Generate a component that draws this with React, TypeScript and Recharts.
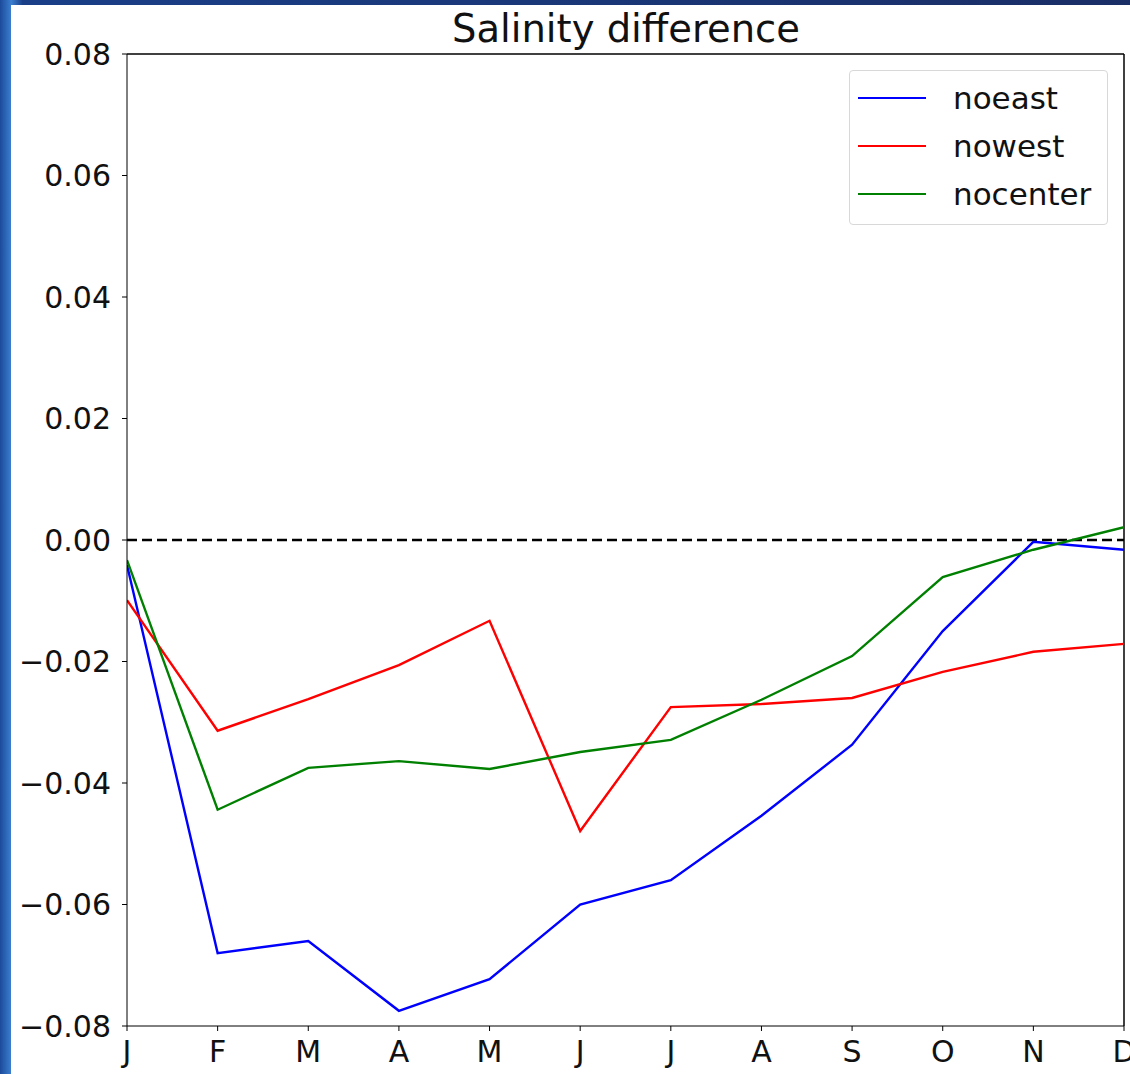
import React from "react";
import { LineChart, Line, XAxis, YAxis, ReferenceLine } from "recharts";

const months = ["J", "F", "M", "A", "M", "J", "J", "A", "S", "O", "N", "D"];
const noeast = [-0.0041, -0.068, -0.066, -0.0775, -0.0723, -0.06, -0.056, -0.0454, -0.0337, -0.015, -0.0003, -0.0016];
const nowest = [-0.0099, -0.0314, -0.0262, -0.0206, -0.0133, -0.0479, -0.0275, -0.027, -0.026, -0.0217, -0.0184, -0.0171];
const nocenter = [-0.0033, -0.0444, -0.0375, -0.0364, -0.0377, -0.0349, -0.0329, -0.0263, -0.0191, -0.0061, -0.0016, 0.0021];
const yTicks = [-0.08, -0.06, -0.04, -0.02, 0, 0.02, 0.04, 0.06, 0.08];

const SERIES = [
  { key: "noeast", color: "#0000ff" },
  { key: "nowest", color: "#ff0000" },
  { key: "nocenter", color: "#008000" },
];

const data = months.map((m, i) => ({
  idx: i,
  month: m,
  noeast: noeast[i],
  nowest: nowest[i],
  nocenter: nocenter[i],
}));

const FONT = "'DejaVu Sans', sans-serif";

const fmtY = (v: number) => {
  const s = Math.abs(v).toFixed(2);
  return v < 0 ? "\u2212" + s : s;
};

// legend drawn outside recharts so it does not eat plot space
const LegendBox = () => (
  <div
    style={{
      position: "absolute",
      left: 849,
      top: 70,
      width: 259,
      height: 155,
      border: "1px solid #d8d8d8",
      borderRadius: 4,
      background: "rgba(255,255,255,0.9)",
      fontFamily: FONT,
      fontSize: 31,
      boxSizing: "border-box",
      paddingTop: 3,
    }}
  >
    {SERIES.map((s) => (
      <div key={s.key} style={{ display: "flex", alignItems: "center", height: 48 }}>
        <div style={{ width: 68, height: 2.5, background: s.color, marginLeft: 8 }} />
        <span style={{ marginLeft: 27, color: "#111" }}>{s.key}</span>
      </div>
    ))}
  </div>
);

const App = () => {
  return (
    <div
      style={{
        position: "fixed",
        left: 0,
        top: 0,
        width: 1130,
        height: 1074,
        overflow: "hidden",
        background: "linear-gradient(90deg, #1d4a9a 0%, #3b7fd0 1%, #1a3f88 2%, #1a2e66 100%)",
      }}
    >
      <div
        style={{
          position: "absolute",
          left: 11,
          top: 5,
          width: 1119,
          height: 1069,
          background: "#ffffff",
        }}
      />
      <div
        style={{
          position: "absolute",
          left: 0,
          top: 6,
          width: 1252,
          textAlign: "center",
          fontFamily: FONT,
          fontSize: 38.5,
          color: "#111",
        }}
      >
        Salinity difference
      </div>
      <div style={{ position: "absolute", left: 0, top: 0 }}>
        <LineChart
          width={1130}
          height={1074}
          data={data}
          margin={{ top: 54, right: 6, left: 17, bottom: 0 }}
        >
          <XAxis
            dataKey="idx"
            type="number"
            domain={[0, 11]}
            ticks={months.map((_, i) => i)}
            tickFormatter={(v: number) => months[v]}
            height={48}
            interval={0}
            stroke="#000"
            tickSize={5}
            tickMargin={10}
            tick={{ fontSize: 30, fill: "#111", fontFamily: FONT }}
            allowDataOverflow
          />
          <YAxis
            domain={[-0.08, 0.08]}
            ticks={yTicks}
            tickFormatter={fmtY}
            width={110}
            stroke="#000"
            tickSize={5}
            tickMargin={11}
            tick={{ fontSize: 30, fill: "#111", fontFamily: FONT }}
            allowDataOverflow
          />
          <ReferenceLine y={0.08} stroke="#000" strokeWidth={1.5} />
          <ReferenceLine x={11} stroke="#000" strokeWidth={1.5} />
          <ReferenceLine y={0} stroke="#000" strokeWidth={2.5} strokeDasharray="10 5" />
          {SERIES.map((s) => (
            <Line
              key={s.key}
              dataKey={s.key}
              stroke={s.color}
              strokeWidth={2.4}
              dot={false}
              isAnimationActive={false}
            />
          ))}
        </LineChart>
      </div>
      <LegendBox />
    </div>
  );
};

export default App;
